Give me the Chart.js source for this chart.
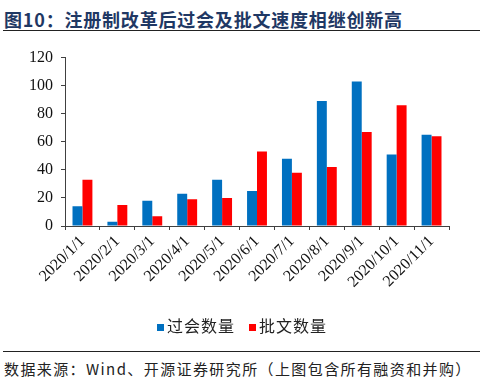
<!DOCTYPE html>
<html>
<head>
<meta charset="utf-8">
<script src="https://cdn.jsdelivr.net/npm/chart.js@4.4.0/dist/chart.umd.min.js"></script>
<style>
  html, body { margin: 0; padding: 0; background: #fff; }
  #page { position: relative; width: 500px; height: 392px; overflow: hidden; font-family: 'Noto Sans CJK SC', sans-serif; }
  #title { position: absolute; left: 4px; top: 6px; font-size: 18px; font-weight: bold; color: #1f3864; letter-spacing: 0.8px; white-space: nowrap; }
  .rule { position: absolute; left: 3px; width: 477px; height: 0; border-top: 1.5px solid #222; }
  #chartBox { position: absolute; left: 0; top: 40px; width: 460px; height: 300px; }
  #legend { position: absolute; top: 313px; left: 157px; font-size: 16px; color: #222; white-space: nowrap; letter-spacing: 1px; }
  #legend span.box { display: inline-block; width: 7px; height: 7px; margin-right: 3px; vertical-align: 1px; }
  #source { position: absolute; left: 4px; top: 358px; font-size: 15px; color: #222; white-space: nowrap; letter-spacing: 1.4px; }
</style>
</head>
<body>
<div id="page">
  <div id="title">图10：注册制改革后过会及批文速度相继创新高</div>
  <div class="rule" style="top:30px"></div>
  <div id="chartBox"><canvas id="barChart"></canvas></div>
  <div id="legend"></div>
  <div class="rule" style="top:351px"></div>
  <div id="source">数据来源：Wind、开源证券研究所（上图包含所有融资和并购）</div>
</div>
<script>
// chart data
const months = ['2020/1/1', '2020/2/1', '2020/3/1', '2020/4/1', '2020/5/1', '2020/6/1',
  '2020/7/1', '2020/8/1', '2020/9/1', '2020/10/1', '2020/11/1'];
const approvedCounts = [14, 3, 18, 23, 33, 25, 48, 89, 103, 51, 65];   // 过会数量
const licenseCounts = [33, 15, 7, 19, 20, 53, 38, 42, 67, 86, 64];     // 批文数量
const seriesNames = ['过会数量', '批文数量'];
const seriesColors = ['#0070c0', '#ff0000'];

// simple html legend so it sits where the original one does
const legendEl = document.getElementById('legend');
legendEl.innerHTML = seriesNames.map((name, i) =>
  `<span class="box" style="background:${seriesColors[i]}"></span>${name}`
).join('<span style="display:inline-block;width:14px"></span>');

const axisColor = '#404040';
const serif = "'Liberation Serif', 'Times New Roman', serif";

new Chart(document.getElementById('barChart'), {
  type: 'bar',
  data: {
    labels: months,
    datasets: [
      { label: seriesNames[0], data: approvedCounts, backgroundColor: seriesColors[0] },
      { label: seriesNames[1], data: licenseCounts, backgroundColor: seriesColors[1] }
    ]
  },
  options: {
    responsive: true,
    maintainAspectRatio: false,
    animation: false,
    categoryPercentage: 0.57,
    barPercentage: 1.0,
    layout: { padding: { top: 13, right: 11, bottom: 0, left: 0 } },
    plugins: {
      legend: { display: false },
      tooltip: { enabled: false }
    },
    scales: {
      x: {
        afterFit: scale => { scale.height = 114; },
        border: { color: axisColor, width: 1 },
        grid: { display: true, drawOnChartArea: false, tickLength: 4, color: axisColor, offset: true },
        ticks: {
          color: '#111',
          font: { family: serif, size: 16 },
          minRotation: 45,
          maxRotation: 45,
          autoSkip: false,
          padding: 2
        }
      },
      y: {
        min: 0,
        max: 120,
        afterFit: scale => { scale.width = 65; },
        border: { color: axisColor, width: 1 },
        grid: { display: true, drawOnChartArea: false, tickLength: 4, color: axisColor },
        ticks: {
          stepSize: 20,
          color: '#111',
          font: { family: serif, size: 16 },
          padding: 8
        }
      }
    }
  }
});
</script>
</body>
</html>
